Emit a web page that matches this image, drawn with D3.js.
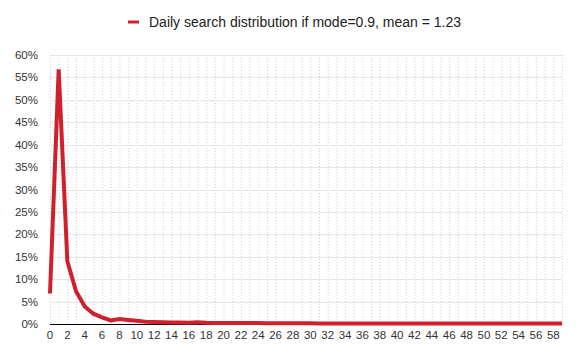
<!DOCTYPE html>
<html>
<head>
<meta charset="utf-8">
<script src="https://d3js.org/d3.v7.min.js"></script>
<style>
  body { margin: 0; background: #fff; }
  svg { display: block; font-family: "Liberation Sans", Arial, sans-serif; }
</style>
</head>
<body>
<div id="chart"></div>
<script>
// Days 0..59 and share of searches (%)
const days = d3.range(0, 60);
const share = [
  6.8, 56.8, 14.0, 7.3, 3.9, 2.3, 1.5, 0.8, 1.1, 0.9,
  0.7, 0.5, 0.45, 0.4, 0.35, 0.35, 0.3, 0.4, 0.3, 0.25,
  0.2, 0.25, 0.2, 0.2, 0.2, 0.15, 0.15, 0.15, 0.15, 0.15,
  0.15, 0.12, 0.12, 0.12, 0.12, 0.12, 0.1, 0.1, 0.1, 0.1,
  0.1, 0.1, 0.1, 0.12, 0.1, 0.1, 0.1, 0.1, 0.1, 0.1,
  0.1, 0.1, 0.1, 0.1, 0.12, 0.1, 0.1, 0.1, 0.1, 0.1
];
const yTicks = d3.range(0, 65, 5);
const seriesName = "Daily search distribution if mode=0.9, mean = 1.23";

const width = 584, height = 364;
const margin = { top: 55, right: 22, bottom: 40, left: 50 };

const svg = d3.select("#chart").append("svg")
    .attr("width", width)
    .attr("height", height);

const x = d3.scalePoint()
    .domain(days)
    .range([margin.left, width - margin.right]);

const y = d3.scaleLinear()
    .domain([0, 60])
    .range([height - margin.bottom, margin.top]);

// vertical dotted grid
svg.append("g")
  .selectAll("line")
  .data(days)
  .join("line")
    .attr("x1", d => x(d) + 0.5)
    .attr("x2", d => x(d) + 0.5)
    .attr("y1", y(60))
    .attr("y2", y(0))
    .attr("stroke", "#cfcfcf")
    .attr("stroke-dasharray", "1,2");

// horizontal grid
svg.append("g")
  .selectAll("line")
  .data(yTicks.filter(d => d > 0))
  .join("line")
    .attr("x1", x(0))
    .attr("x2", x(59))
    .attr("y1", d => Math.round(y(d)) + 0.5)
    .attr("y2", d => Math.round(y(d)) + 0.5)
    .attr("stroke", "#e6e6e6");

// y labels
svg.append("g")
  .selectAll("text")
  .data(yTicks)
  .join("text")
    .attr("x", 38)
    .attr("y", d => y(d))
    .attr("dy", "0.35em")
    .attr("text-anchor", "end")
    .attr("font-size", 11.5)
    .attr("fill", "#333")
    .text(d => d + "%");

// x axis line
svg.append("line")
    .attr("x1", x(0))
    .attr("x2", x(59))
    .attr("y1", Math.round(y(0)) + 0.5)
    .attr("y2", Math.round(y(0)) + 0.5)
    .attr("stroke", "#000");

// x labels
svg.append("g")
  .selectAll("text")
  .data(days.filter(d => d % 2 === 0))
  .join("text")
    .attr("x", d => x(d))
    .attr("y", y(0) + 15)
    .attr("text-anchor", "middle")
    .attr("font-size", 11.5)
    .attr("fill", "#333")
    .text(d => d);

// the series line
const line = d3.line()
    .x((d, i) => x(days[i]))
    .y(d => y(d));

svg.append("path")
    .datum(share)
    .attr("fill", "none")
    .attr("stroke", "#d0202c")
    .attr("stroke-width", 4)
    .attr("stroke-linejoin", "miter")
    .attr("d", line);

// legend
const legend = svg.append("g").attr("transform", "translate(128,22)");
legend.append("line")
    .attr("x1", 0).attr("x2", 11)
    .attr("stroke", "#d0202c")
    .attr("stroke-width", 3);
legend.append("text")
    .attr("x", 21)
    .attr("dy", "0.35em")
    .attr("font-size", 14)
    .attr("fill", "#222")
    .text(seriesName);
</script>
</body>
</html>
